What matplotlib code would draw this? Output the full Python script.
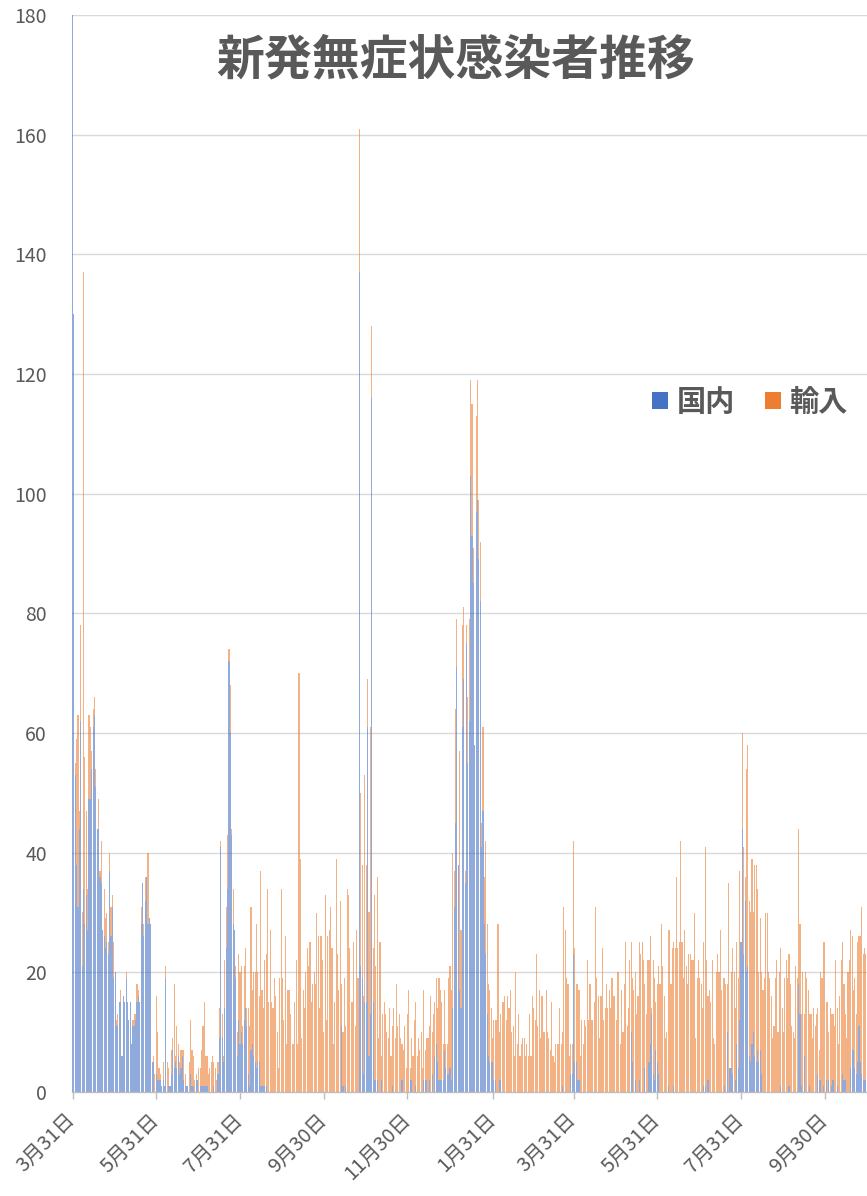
import matplotlib
matplotlib.use('Agg')
import matplotlib.pyplot as plt
import matplotlib.dates as mdates
from matplotlib.patches import Patch
import pandas as pd
import numpy as np

plt.rcParams['font.family'] = ['Noto Sans CJK JP', 'DejaVu Sans']

# ---------------- data (daily new asymptomatic cases, from 2020-03-31) ----------------
start_date = '2020-03-31'

# domestic (国内)
dom_a = [200,130,53,38,31,44,62,21,34,28,33,27,49,49,54,61,63,51,44,44,36,35,27,26,24,25,23,37,26,31,
         19,20,11,11,15,15,6,16,15,19,15,12,15,8,11,11,12,15,16,15,28,35,26,32,36,28,29,28,5,5,0]
dom_b = [3,2,2,2,1,2,1,19,0,1, 1,3,7,4,5,4,6,3,4,6, 2,1,1,1,0,3,1,1,0,2, 2,0,1,1,1,1,1,1,0,0,
         0,0,1,0,0,3,9,41,9,5, 14,24,34,72,60,43,28,27,19,6, 12,8,10,8,12,14,11,3,1]
dom_c = [7,8,6,5,4,5,5,1,1,1, 1,1,0,0,0,0,0,0,0,0, 0,0,0,0,0,0,0,0,0,0, 0,0,0,0,0,0,0,0,0,0,
         0,0,0,0,0,0,0,0,0,0, 0,0,0,0,0,0,0,0,0,0, 0,0,0,0,0,0,11,1,0,1, 0,0]
dom_d = [0,0,0,0,0,0,0,137,21,19, 3,15,15,61,6,13,116,15,2,2, 2,0,0,2,0,0,0,0,0,0,
         0,1,0,0,0,0,0,0,2,0, 0,0,0,0,2,2,0,0,1,0, 0,0,0,0,2]
dom_e = [2,2,0,2,0,3,0,6,8,5, 2,2,2,2,7,4,3,3,4,2, 14,31,45,71,38,17,14,61,69,35,
         75,55,62,103,93,85,58,97,99,89, 82,41,47,28,23,13,6,5,5,5, 2,2,0,0,2,2,0,0,0,0, 0,0]
dom_f = [0,0,0,0,0,0,0,0,0,0, 0,0,0,0,0,0,0,0,0,0, 0,0,0,0,0,0,0,0,0,0, 0,0,0,0,0,0,0,0,1,0,
         0,0,0,0,3,3,23,5,5,2, 2,0,0,0,0,0,0,0,0,0, 0,0,0,0,0,0,0,0,0,0, 0,0,0,0,0,0,0,0,0]
dom_g = [0,0,0,0,0,0,0,0,0,10, 5,0,2,0,0,2,0,0,0,4, 0,0,5,8,13,3,2,7,5,3, 0,0,0,0,0,0,1,0,0,0,
         1,0,0,0,0,0,0,0,0,0, 0,0,0,0,0,0,0,0,0,0, 0,0,1,1,0,2,0,0,0,0, 0,0,0,0,0,0,0,1,0,10,
         0,4,4,3]
dom_h = [0,2,8,4,12,25,44,23,32,20, 21,6,5,8,10,6,5,7,5,7, 3,0,0,0,0,0,0,0,0,0, 0,0,0,0,1,0,0,0,0,0,
         1,0,0,0,0,0,0,18,13,1, 0,6,0,0,0,1,0,0,0,0, 0,3,2,2,0,1,0,2,0,2, 0,1,2,0,0,1,0,0,0,3,
         2,2,0,0,0,4,7,7,4,3, 5,11,5,3,2,2,2]

# imported (輸入)
imp_a = [0,0,2,21,32,3,16,9,103,28,14,7,14,12,3,3,3,3,0,5,1,7,0,8,5,5,2,3,5,2,6,0,1,2,0,2,0,0,0,1,
         0,0,0,0,1,2,1,3,1,0,3,0,2,4,0,12,0,0,0,1,3]
imp_b = [13,8,2,1,0,3,0,2,5,3, 0,4,2,14,1,7,2,2,3,1, 5,2,0,0,5,9,6,5,2,1, 0,4,3,6,10,14,5,5,3,4,
         5,6,4,4,2,2,5,1,4,1, 8,7,9,2,8,1,6,0,2,4, 11,12,11,3,9,10,3,11,10]
imp_c = [24,9,14,15,24,15,11,36,16,13, 21,22,34,15,27,15,14,19,16,10, 4,19,34,19,12,26,8,17,17,13,
         8,8,15,22,8,70,39,9,17,14, 20,24,21,25,15,18,20,18,30,26, 14,26,22,10,33,12,26,27,31,24,
         8,15,39,23,17,32,7,9,19,10, 34,33]
imp_d = [24,15,15,25,11,27,19,24,29,19, 13,38,23,8,24,48,12,9,31,19, 34,9,25,4,13,15,13,10,9,14,
         6,10,14,9,18,11,13,9,6,7, 11,4,13,17,2,7,6,12,14,6, 9,7,10,4,15]
imp_e = [5,7,9,9,16,7,13,9,11,9, 17,15,13,6,10,4,5,16,17,15, 26,6,19,8,0,40,13,17,12,2,
         3,11,17,16,22,6,0,16,20,10, 10,4,14,8,19,15,12,12,9,4, 10,10,12,28,8,11,15,15,16,12, 16,14]
imp_f = [17,10,11,6,20,8,13,6,8,9, 9,6,8,6,13,6,16,14,12,23, 11,17,9,16,10,10,17,10,9,7,
         15,6,5,8,8,8,14,8,9,31, 27,19,18,6,5,5,19,19,13,16, 15,6,12,8,12,11,22,12,18,12,
         12,15,31,19,16,9,16,24,12,14, 18,14,17,14,19,16,16,12,20]
imp_g = [20,8,17,10,18,25,11,14,22,15, 14,17,18,13,16,23,23,25,22,14, 13,22,17,18,1,19,17,8,13,18,
         18,28,21,16,9,10,26,27,18,24, 24,24,36,24,25,42,25,19,27,21, 18,23,23,22,22,30,9,19,22,19,
         18,14,24,40,22,14,17,15,22,9, 8,20,23,20,27,17,19,18,18,8, 35,0,16,21]
imp_h = [20,12,17,15,25,0,16,18,4,34, 37,26,25,31,20,32,33,27,15,22, 17,17,19,30,30,20,19,16,9,11,
         19,22,10,20,23,14,10,19,22,19, 22,18,11,10,9,21,19,26,15,12, 20,7,20,19,17,12,13,9,14,11,
         13,11,5,18,19,24,25,13,15,8, 14,12,11,11,22,13,8,16,22,22, 16,11,9,20,22,23,19,10,15,10,
         20,15,21,28,21,22,21]

domestic = dom_a + dom_b + dom_c + dom_d + dom_e + dom_f + dom_g + dom_h
imported = imp_a + imp_b + imp_c + imp_d + imp_e + imp_f + imp_g + imp_h

tick_dates = ['2020-03-31', '2020-05-31', '2020-07-31', '2020-09-30', '2020-11-30',
              '2021-01-31', '2021-03-31', '2021-05-31', '2021-07-31', '2021-09-30']
series_names = ['国内', '輸入']
title = '新発無症状感染者推移'

# ---------------- drawing ----------------
BLUE = '#4472C4'
ORANGE = '#ED7D31'
GREY = '#595959'

dates = pd.date_range(start_date, periods=len(domestic), freq='D')
x = mdates.date2num(dates)

W, H = 867, 1196
fig = plt.figure(figsize=(W / 100, H / 100), dpi=100)
ax = fig.add_axes([72 / W, 1 - 1092 / H, 1 - 72 / W, (1092 - 15) / H])

dom_arr = np.array(domestic)
imp_arr = np.array(imported)
ax.bar(x, dom_arr, width=0.82, color=BLUE, alpha=0.6, linewidth=0, zorder=2)
ax.bar(x, imp_arr, width=0.82, bottom=dom_arr, color=ORANGE, alpha=0.6, linewidth=0, zorder=2)

ax.set_ylim(0, 180)
ax.set_yticks(range(0, 181, 20))
ax.grid(axis='y', color='#D9D9D9', linewidth=1.0, zorder=0)
ax.set_axisbelow(True)

ax.set_xlim(x[0] - 0.4, x[0] + 578.8)
tks = pd.to_datetime(tick_dates)
ax.set_xticks(mdates.date2num(tks))
ax.set_xticklabels([f"{d.month}月{d.day}日" for d in tks], rotation=45,
                   ha='right', va='center', rotation_mode='anchor')

for s in ['top', 'right', 'left']:
    ax.spines[s].set_visible(False)
ax.spines['bottom'].set_color('#BFBFBF')
ax.spines['bottom'].set_linewidth(1.0)
ax.spines['bottom'].set_zorder(3)

ax.tick_params(axis='x', length=5, width=1, color='#BFBFBF', labelcolor=GREY,
               labelsize=14.5, pad=13)
ax.tick_params(axis='y', length=0, labelcolor=GREY, labelsize=14, pad=18)

fig.text(456 / W, 1 - 60 / H, title, ha='center', va='center',
         fontsize=34.5, fontweight='bold', color=GREY)

handles = [Patch(facecolor=BLUE, edgecolor='none'), Patch(facecolor=ORANGE, edgecolor='none')]
leg = fig.legend(handles, series_names, loc='center', bbox_to_anchor=(750 / W, 1 - 402 / H),
                 ncol=2, frameon=False, handlelength=0.55, handleheight=0.55,
                 handletextpad=0.3, columnspacing=1.0,
                 prop={'size': 21, 'weight': 'bold'})
for t in leg.get_texts():
    t.set_color(GREY)

fig.savefig('out.png', dpi=100)
